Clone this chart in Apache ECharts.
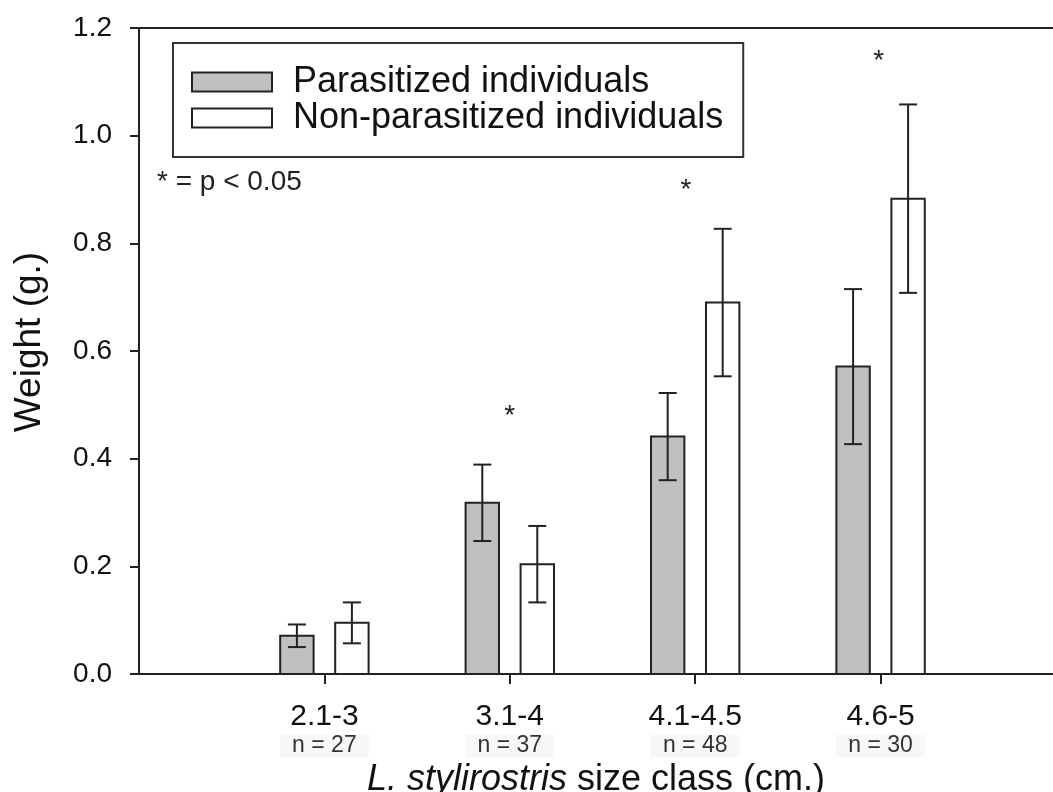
<!DOCTYPE html>
<html>
<head>
<meta charset="utf-8">
<script src="https://cdn.jsdelivr.net/npm/echarts@6/dist/echarts.min.js"></script>
<style>
html,body{margin:0;padding:0;background:#fff;}
#chart{width:1053px;height:792px;}
</style>
</head>
<body>
<div id="chart"></div>
<script>
// ---- data ----
const categories = ['2.1-3', '3.1-4', '4.1-4.5', '4.6-5'];
const sampleSizes = [27, 37, 48, 30];
const parasitized = [0.071, 0.318, 0.441, 0.571];
const parasitizedErr = [0.021, 0.071, 0.081, 0.144];
const nonParasitized = [0.095, 0.204, 0.690, 0.883];
const nonParasitizedErr = [0.038, 0.071, 0.137, 0.175];
const starX = [2.0, 2.95, 3.99];
const starY = [0.49, 0.91, 1.15];
const yTicks = [0, 0.2, 0.4, 0.6, 0.8, 1.0, 1.2];
const seriesNames = ['Parasitized individuals', 'Non-parasitized individuals'];

// ---- styling ----
const FONT = '"Liberation Sans", Arial, sans-serif';
const INK = '#222';
const GREY = '#c0c0c0';
const BAR_W = 33.4;
const BAR_OFF = 27.5;
const CAP = 9;

function barRenderer(offset, fill) {
  return function (params, api) {
    const x = api.value(0), v = api.value(1), e = api.value(2);
    const top = api.coord([x, v]);
    const bot = api.coord([x, 0]);
    const hi = api.coord([x, v + e])[1];
    const lo = api.coord([x, v - e])[1];
    const cx = top[0] + offset;
    const ls = {stroke: INK, lineWidth: 2};
    return {
      type: 'group',
      children: [
        {type: 'rect', shape: {x: cx - BAR_W / 2, y: top[1], width: BAR_W, height: bot[1] - top[1]},
         style: {fill: fill, stroke: INK, lineWidth: 2}},
        {type: 'line', shape: {x1: cx, y1: hi, x2: cx, y2: lo}, style: ls},
        {type: 'line', shape: {x1: cx - CAP, y1: hi, x2: cx + CAP, y2: hi}, style: ls},
        {type: 'line', shape: {x1: cx - CAP, y1: lo, x2: cx + CAP, y2: lo}, style: ls}
      ]
    };
  };
}

const chart = echarts.init(document.getElementById('chart'), null, {renderer: 'canvas'});
const xMin = 0, xMax = 4.93;

const option = {
  animation: false,
  backgroundColor: '#fff',
  textStyle: {fontFamily: FONT},
  grid: {left: 139, right: 0, top: 28, bottom: 118, outerBoundsMode: 'none', containLabel: false},
  legend: {
    orient: 'vertical',
    left: 173, top: 43,
    padding: [21, 20, 21, 18],
    itemGap: 0,
    itemWidth: 80, itemHeight: 19,
    borderColor: '#333', borderWidth: 2,
    selectedMode: false,
    textStyle: {fontSize: 36, lineHeight: 33, color: '#111', fontFamily: FONT, padding: [0, 0, 0, 16]},
    data: [
      {name: seriesNames[0], icon: 'rect', itemStyle: {color: GREY, borderColor: INK, borderWidth: 2}},
      {name: seriesNames[1], icon: 'rect', itemStyle: {color: '#fff', borderColor: INK, borderWidth: 2}}
    ]
  },
  xAxis: [
    {
      type: 'value', min: xMin, max: xMax, position: 'bottom',
      splitLine: {show: false},
      axisLine: {show: true, lineStyle: {color: INK, width: 2}},
      axisTick: {show: true, length: 10, inside: false, lineStyle: {color: INK, width: 2},
                 customValues: categories.map((c, i) => i + 1)},
      axisLabel: {
        customValues: categories.map((c, i) => i + 1),
        margin: 27,
        formatter: function (v) {
          const i = Math.round(v) - 1;
          if (i < 0 || i >= categories.length) return '';
          return '{c|' + categories[i] + '}\n{n|n = ' + sampleSizes[i] + '}';
        },
        rich: {
          c: {fontSize: 30, lineHeight: 32, color: '#111', fontFamily: FONT},
          n: {fontSize: 23, lineHeight: 26, color: '#333', fontFamily: FONT, backgroundColor: '#f7f7f7', padding: [0, 12]}
        }
      },
      name: '{i|L. stylirostris}{r| size class (cm.)}',
      nameLocation: 'middle',
      nameGap: 80,
      nameTextStyle: {
        rich: {
          i: {fontSize: 36, fontStyle: 'italic', color: '#111', fontFamily: FONT},
          r: {fontSize: 36, color: '#111', fontFamily: FONT}
        }
      }
    },
    {
      type: 'value', min: xMin, max: xMax, position: 'top',
      splitLine: {show: false},
      axisLine: {show: true, lineStyle: {color: INK, width: 2}},
      axisTick: {show: false}, axisLabel: {show: false}
    }
  ],
  yAxis: {
    type: 'value', min: 0, max: 1.2, interval: 0.2,
    splitLine: {show: false},
    axisLine: {show: true, lineStyle: {color: INK, width: 2}},
    axisTick: {show: true, length: 9, lineStyle: {color: INK, width: 2}},
    axisLabel: {fontSize: 28, color: '#111', margin: 27, fontFamily: FONT,
                formatter: v => v.toFixed(1)},
    name: 'Weight (g.)',
    nameLocation: 'middle',
    nameGap: 91,
    nameTextStyle: {fontSize: 37, color: '#111', fontFamily: FONT, padding: [0, 0, 0, 18]}
  },
  series: [
    {
      name: seriesNames[0], type: 'custom', xAxisIndex: 0, clip: false,
      itemStyle: {color: GREY, borderColor: INK, borderWidth: 2},
      renderItem: barRenderer(-BAR_OFF, GREY),
      data: categories.map((c, i) => [i + 1, parasitized[i], parasitizedErr[i]])
    },
    {
      name: seriesNames[1], type: 'custom', xAxisIndex: 0, clip: false,
      itemStyle: {color: '#fff', borderColor: INK, borderWidth: 2},
      renderItem: barRenderer(BAR_OFF, '#fff'),
      data: categories.map((c, i) => [i + 1, nonParasitized[i], nonParasitizedErr[i]])
    },
    {
      name: 'significance', type: 'custom', xAxisIndex: 0, clip: false,
      renderItem: function (params, api) {
        const p = api.coord([api.value(0), api.value(1)]);
        return {type: 'text', x: p[0], y: p[1] + 6,
                style: {text: '*', font: '28px ' + FONT, fill: INK, align: 'center', verticalAlign: 'middle'}};
      },
      data: starX.map((x, i) => [x, starY[i]])
    }
  ],
  graphic: [
    {type: 'text', left: 157, top: 168, style: {text: '* = p < 0.05', font: '28px ' + FONT, fill: '#222'}}
  ]
};
chart.setOption(option);
</script>
</body>
</html>
